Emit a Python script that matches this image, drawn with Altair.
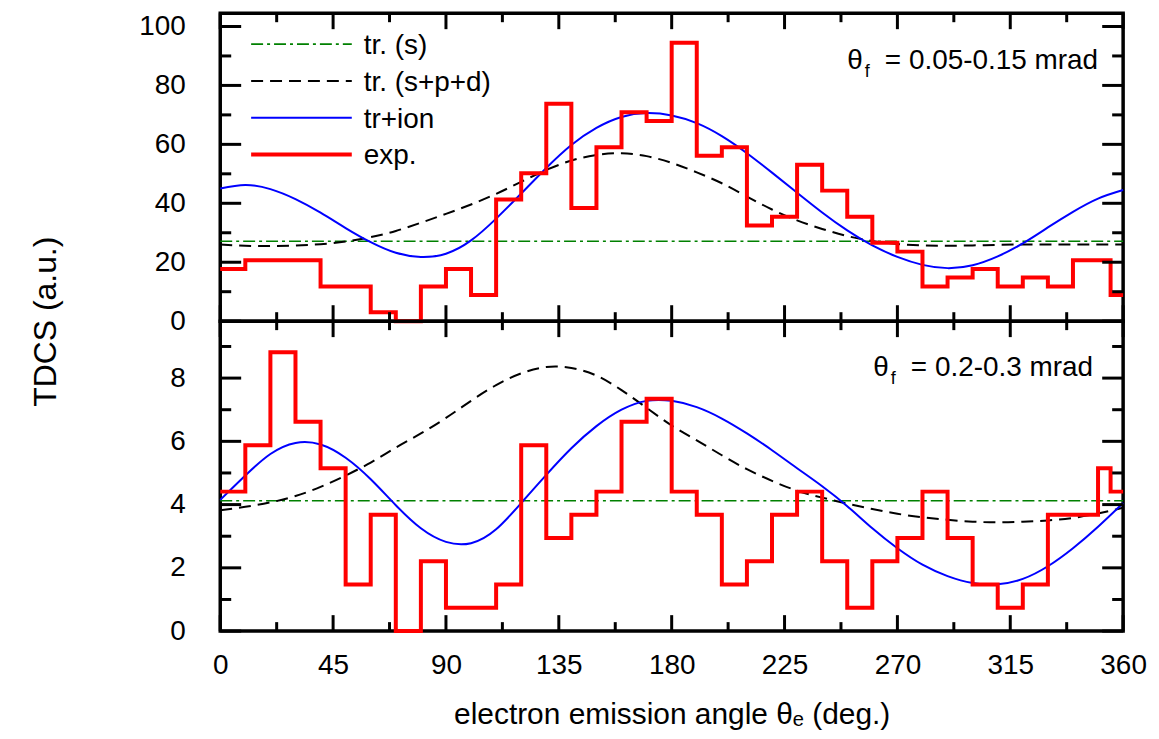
import altair as alt
import pandas as pd

# ---------------- data ----------------
angle = list(range(0, 361, 10))

# upper panel (theta_f = 0.05-0.15 mrad)
top_ion = [45.0, 46.2, 44.8, 41.4, 36.8, 31.6, 26.8, 23.2, 21.8, 22.9, 27.4, 34.8, 43.3,
           52.0, 59.8, 65.6, 69.3, 70.6, 69.8, 67.2, 62.8, 57.0, 50.4, 43.6, 36.9, 30.8,
           25.7, 21.8, 19.1, 18.0, 19.0, 22.0, 26.4, 31.8, 37.1, 41.6, 44.5]
top_spd = [26.0, 25.6, 25.5, 25.7, 26.1, 27.0, 28.5, 30.6, 33.4, 36.4, 39.6, 43.2, 47.3,
           51.3, 54.5, 56.4, 57.0, 56.0, 53.7, 50.5, 46.8, 42.3, 37.9, 34.2, 31.3, 28.9,
           27.2, 26.2, 25.7, 25.6, 25.7, 25.9, 26.0, 26.0, 26.0, 26.0, 26.0]
top_s_level = 27.1

# lower panel (theta_f = 0.2-0.3 mrad)
bot_ion = [4.15, 4.92, 5.60, 5.95, 5.90, 5.48, 4.80, 3.98, 3.25, 2.82, 2.78, 3.22, 4.05,
           4.94, 5.78, 6.48, 7.00, 7.28, 7.28, 7.08, 6.72, 6.25, 5.72, 5.15, 4.58, 3.95,
           3.25, 2.62, 2.10, 1.74, 1.52, 1.48, 1.65, 2.05, 2.62, 3.30, 4.05]
bot_spd = [3.82, 3.93, 4.07, 4.27, 4.56, 4.92, 5.33, 5.80, 6.25, 6.74, 7.28, 7.78, 8.15,
           8.35, 8.32, 8.08, 7.62, 7.06, 6.50, 6.03, 5.56, 5.12, 4.75, 4.44, 4.22, 4.03,
           3.86, 3.71, 3.60, 3.52, 3.46, 3.44, 3.46, 3.50, 3.58, 3.72, 3.90]
bot_s_level = 4.12

# experimental histogram: left edges of the bins (last bin ends at 360)
exp_edges = list(range(0, 351, 10)) + [355, 360]
top_exp = [17.7, 20.7, 20.7, 20.7, 11.8, 11.8, 3.0, 0.0, 11.8, 17.7, 8.9, 41.3, 50.2,
           73.8, 38.4, 59.0, 70.9, 67.9, 94.5, 56.1, 59.0, 32.5, 35.4, 53.1, 44.3, 35.4,
           26.6, 23.6, 11.8, 14.8, 17.7, 11.8, 14.8, 11.8, 20.7, 20.7, 8.9]
bot_exp = [4.41, 5.88, 8.82, 6.62, 5.15, 1.47, 3.68, 0.0, 2.21, 0.74, 0.74, 1.47, 5.88,
           2.94, 3.68, 4.41, 6.62, 7.35, 4.41, 3.68, 1.47, 2.21, 3.68, 4.41, 2.21, 0.74,
           2.21, 2.94, 4.41, 2.94, 1.47, 0.74, 1.47, 3.68, 3.68, 5.15, 4.41]

# ticks
x_major = [0, 45, 90, 135, 180, 225, 270, 315, 360]
x_minor = [22.5, 67.5, 112.5, 157.5, 202.5, 247.5, 292.5, 337.5]
top_y_major = [0, 20, 40, 60, 80, 100]
top_y_minor = [10, 30, 50, 70, 90]
bot_y_major = [0, 2, 4, 6, 8]
bot_y_minor = [1, 3, 5, 7, 9]

legend_labels = ["tr. (s)", "tr. (s+p+d)", "tr+ion", "exp."]
top_note = "= 0.05-0.15 mrad"
bot_note = "= 0.2-0.3 mrad"

# ---------------- styling ----------------
W = 906
FONT = "Liberation Sans"
RED, BLUE, GREEN, BLACK = "#ff0000", "#0000ff", "#008000", "#000000"
GREEN_DASH = [12, 4, 3, 4]
BLACK_DASH = [12, 7]


def panel(h, ydom, ion, spd, exp, s_level, ymaj, ymin, yaxis, xaxis,
          note, note_x, note_y, note_w, with_legend):
    xs = alt.Scale(domain=[0, 360], nice=False, zero=False)
    ys = alt.Scale(domain=ydom, nice=False, zero=False)

    def X(f):
        return alt.X(f, type="quantitative", scale=xs, axis=xaxis)

    def Y(f):
        return alt.Y(f, type="quantitative", scale=ys, axis=yaxis)

    curves = pd.DataFrame({"angle": angle, "ion": ion, "spd": spd})
    expdf = pd.DataFrame({"angle": exp_edges, "tdcs": exp + [exp[-1]]})
    sdf = pd.DataFrame({"angle": [0, 360], "tdcs": [s_level, s_level]})

    layers = [
        alt.Chart(sdf).mark_line(color=GREEN, strokeWidth=1.6, strokeDash=GREEN_DASH)
        .encode(x=X("angle"), y=Y("tdcs")),
        alt.Chart(curves).mark_line(color=BLACK, strokeWidth=2, strokeDash=BLACK_DASH,
                                    interpolate="natural")
        .encode(x=X("angle"), y=Y("spd")),
        alt.Chart(curves).mark_line(color=BLUE, strokeWidth=2, interpolate="natural")
        .encode(x=X("angle"), y=Y("ion")),
        alt.Chart(expdf).mark_line(color=RED, strokeWidth=4, interpolate="step-after",
                                   strokeJoin="miter")
        .encode(x=X("angle"), y=Y("tdcs")),
    ]

    # inward ticks on all four sides
    for vals, L in [(x_major, 16), (x_minor, 9)]:
        d = pd.DataFrame({"v": vals})
        layers.append(alt.Chart(d).mark_rule(color=BLACK, strokeWidth=3)
                      .encode(x=X("v"), y=alt.value(h), y2=alt.value(h - L)))
        layers.append(alt.Chart(d).mark_rule(color=BLACK, strokeWidth=3)
                      .encode(x=X("v"), y=alt.value(0), y2=alt.value(L)))
    for vals, L in [(ymaj, 21), (ymin, 11)]:
        d = pd.DataFrame({"v": vals})
        layers.append(alt.Chart(d).mark_rule(color=BLACK, strokeWidth=3)
                      .encode(y=Y("v"), x=alt.value(0), x2=alt.value(L)))
        layers.append(alt.Chart(d).mark_rule(color=BLACK, strokeWidth=3)
                      .encode(y=Y("v"), x=alt.value(W), x2=alt.value(W - L)))

    # annotation  theta_f = ...
    nd = pd.DataFrame({"angle": [note_x], "tdcs": [note_y], "label": [note],
                       "th": ["θ"], "sub": ["f"]})
    layers.append(alt.Chart(nd).mark_text(align="right", baseline="middle", fontSize=28,
                                          font=FONT, color=BLACK)
                  .encode(x=X("angle"), y=Y("tdcs"), text="label:N"))
    layers.append(alt.Chart(nd).mark_text(align="right", baseline="middle", fontSize=28,
                                          font=FONT, color=BLACK, dx=-(note_w + 22))
                  .encode(x=X("angle"), y=Y("tdcs"), text="th:N"))
    layers.append(alt.Chart(nd).mark_text(align="left", baseline="middle", fontSize=18,
                                          font=FONT, color=BLACK, dx=-(note_w + 20), dy=11)
                  .encode(x=X("angle"), y=Y("tdcs"), text="sub:N"))

    if with_legend:
        styles = [
            dict(color=GREEN, strokeWidth=1.6, strokeDash=GREEN_DASH),
            dict(color=BLACK, strokeWidth=2, strokeDash=BLACK_DASH),
            dict(color=BLUE, strokeWidth=2),
            dict(color=RED, strokeWidth=4),
        ]
        for i, (lab, st) in enumerate(zip(legend_labels, styles)):
            yy = 31 + 36.9 * i
            ld = pd.DataFrame({"label": [lab]})
            layers.append(alt.Chart(ld).mark_rule(**st)
                          .encode(x=alt.value(31), x2=alt.value(132), y=alt.value(yy)))
            layers.append(alt.Chart(ld).mark_text(align="left", baseline="middle",
                                                  fontSize=28, font=FONT, color=BLACK)
                          .encode(x=alt.value(144), y=alt.value(yy + 2), text="label:N"))

    return alt.layer(*layers).properties(width=W, height=h)


H_TOP, H_BOT = 309, 311

top_yaxis = alt.Axis(values=top_y_major, ticks=False, domain=False, grid=False,
                     labelFontSize=28, labelFont=FONT, labelColor=BLACK, labelPadding=35,
                     labelFlush=False, labelOverlap=False,
                     title="TDCS (a.u.)", titleFont=FONT, titleFontSize=32,
                     titleFontWeight="normal", titleColor=BLACK,
                     titleX=-175, titleY=H_TOP, titleBaseline="middle")
bot_yaxis = alt.Axis(values=bot_y_major, ticks=False, domain=False, grid=False,
                     labelFontSize=28, labelFont=FONT, labelColor=BLACK, labelPadding=35,
                     labelFlush=False, labelOverlap=False, title="")
bot_xaxis = alt.Axis(values=x_major, ticks=False, domain=False, grid=False,
                     labelFontSize=28, labelFont=FONT, labelColor=BLACK, labelPadding=21,
                     labelFlush=False, labelOverlap=False,
                     title="electron emission angle θₑ (deg.)", titleFont=FONT,
                     titleFontSize=30, titleFontWeight="normal", titleColor=BLACK,
                     titlePadding=20)

top = panel(H_TOP, [0, 104.5], top_ion, top_spd, top_exp, top_s_level,
            top_y_major, top_y_minor, top_yaxis, None,
            top_note, 350.0, 88.2, 214, True)
bottom = panel(H_BOT, [0, 9.8], bot_ion, bot_spd, bot_exp, bot_s_level,
               bot_y_major, bot_y_minor, bot_yaxis, bot_xaxis,
               bot_note, 348.0, 8.32, 183, False)

chart = (
    alt.vconcat(top, bottom, spacing=0, bounds="flush")
    .configure_view(stroke=BLACK, strokeWidth=3.5)
    .properties(padding={"left": 28, "top": 8, "right": 10, "bottom": 5},
                background="white")
)

chart.save("out.html", embed_options={"renderer": "svg", "actions": False})
